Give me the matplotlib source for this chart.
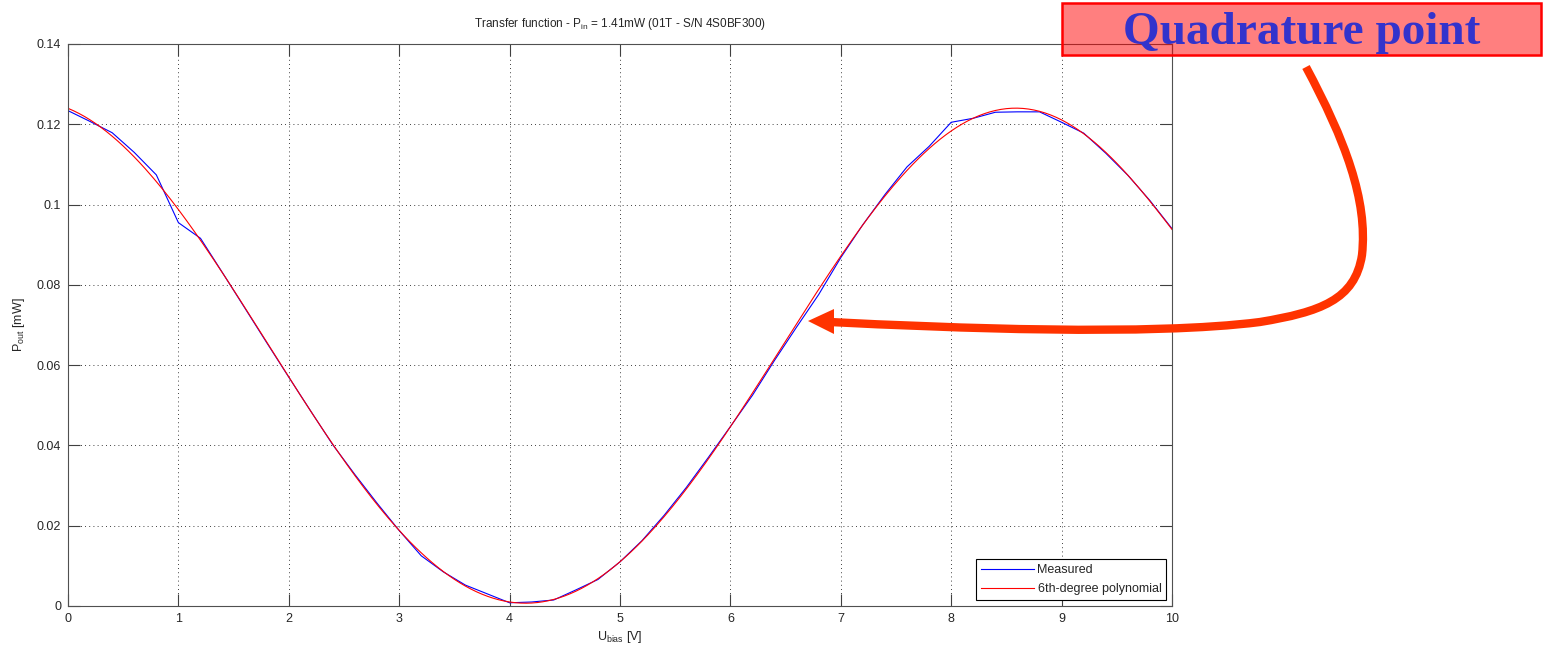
import numpy as np
import matplotlib
matplotlib.use('Agg')
import matplotlib.pyplot as plt
from matplotlib.path import Path
from matplotlib.patches import PathPatch, Polygon, Rectangle
from matplotlib.transforms import Affine2D

plt.rcParams['font.family'] = ['Liberation Sans', 'DejaVu Sans']
plt.rcParams['mathtext.default'] = 'regular'

# measured transfer function
u_bias = [0.0, 0.2, 0.4, 0.6, 0.8, 1.0, 1.2, 1.4, 1.6, 1.8,
          2.0, 2.2, 2.4, 2.6, 2.8, 3.0, 3.2, 3.4, 3.6, 3.8,
          4.0, 4.2, 4.4, 4.6, 4.8, 5.0, 5.2, 5.4, 5.6, 5.8,
          6.0, 6.2, 6.4, 6.6, 6.8, 7.0, 7.2, 7.4, 7.6, 7.8,
          8.0, 8.2, 8.4, 8.6, 8.8, 9.0, 9.2, 9.4, 9.6, 9.8, 10.0]
p_out = [0.1234, 0.1207, 0.1179, 0.1130, 0.1074, 0.0955, 0.0916, 0.0830, 0.0743, 0.0656,
         0.0570, 0.0485, 0.0401, 0.0327, 0.0256, 0.0188, 0.0125, 0.0085, 0.0052, 0.0030,
         0.0008, 0.0010, 0.0015, 0.0040, 0.0066, 0.0110, 0.0163, 0.0226, 0.0295, 0.0370,
         0.0447, 0.0525, 0.0612, 0.0695, 0.0776, 0.0868, 0.0950, 0.1025, 0.1094, 0.1145,
         0.1205, 0.1215, 0.1230, 0.1231, 0.1231, 0.1205, 0.1178, 0.1128, 0.1073, 0.1010, 0.0940]

x_ticks = [0, 1, 2, 3, 4, 5, 6, 7, 8, 9, 10]
y_ticks = [0, 0.02, 0.04, 0.06, 0.08, 0.1, 0.12, 0.14]
y_ticklabels = ['0', '0.02', '0.04', '0.06', '0.08', '0.1', '0.12', '0.14']

# 6th-degree polynomial fit of the measured points
coef = np.polyfit(u_bias, p_out, 6)
u_fit = np.linspace(0, 10, 401)
p_fit = np.polyval(coef, u_fit)

W, H = 1543, 647
fig = plt.figure(figsize=(W / 100, H / 100), dpi=100)
ax = fig.add_axes([68 / W, 41 / H, 1104 / W, 562 / H])

ax.plot(u_bias, p_out, color='#0000FF', lw=0.8, label='Measured')
ax.plot(u_fit, p_fit, color='#FF0000', lw=0.8, label='6th-degree polynomial')

ax.set_xlim(0, 10)
ax.set_ylim(0, 0.14)
ax.set_xticks(x_ticks)
ax.set_yticks(y_ticks)
ax.set_yticklabels(y_ticklabels)
ax.grid(True, color='k', lw=0.6, linestyle=(0, (1, 4)))
ax.tick_params(direction='in', length=8.5, width=0.8, top=True, right=True,
               labelsize=9, pad=5, color='#404040', labelcolor='#262626')
for s in ax.spines.values():
    s.set_color('#505050')
    s.set_linewidth(0.8)

leg = ax.legend(loc='lower right', fontsize=9, fancybox=False, framealpha=1,
                edgecolor='k', borderaxespad=0.45, handlelength=4.2,
                handletextpad=0.3, borderpad=0.4, labelspacing=0.6)
leg.get_frame().set_linewidth(0.8)
for t in leg.get_texts():
    t.set_color('#262626')

# title / axis labels (MATLAB-like placement)
fig.text(620 / W, 1 - 27 / H, 'Transfer function - P$_{in}$ = 1.41mW (01T - S/N 4S0BF300)',
         ha='center', va='baseline', fontsize=8.5, color='#262626')
fig.text(620 / W, 1 - 640 / H, 'U$_{bias}$ [V]', ha='center', va='baseline',
         fontsize=9, color='#262626')
fig.text(19 / W, 1 - 325 / H, 'P$_{out}$ [mW]', ha='center', va='center',
         rotation=90, fontsize=9, color='#262626')

# annotation box + curved arrow (figure pixel coords, y from top)
pix = Affine2D().scale(1 / W, -1 / H).translate(0, 1) + fig.transFigure

box = Rectangle((1062, 3), 479, 52, transform=pix, facecolor=(1, 0, 0, 0.5),
                edgecolor='#FF0000', lw=1.8, zorder=5)
fig.add_artist(box)
fig.text(1302 / W, 1 - 44 / H, 'Quadrature point', ha='center', va='baseline',
         fontsize=34, fontweight='bold', family=['Liberation Serif', 'DejaVu Serif'],
         color='#3333CC', zorder=6)

verts = [(1306, 67), (1345, 140), (1368, 200), (1362, 255),
         (1355, 300), (1320, 312), (1260, 322),
         (1150, 336), (950, 328), (830, 322)]
codes = [Path.MOVETO] + [Path.CURVE4] * 9
body = PathPatch(Path(verts, codes), transform=pix, facecolor='none',
                 edgecolor='#FF3300', lw=6, capstyle='butt', zorder=6)
fig.add_artist(body)
head = Polygon([(808, 321), (834, 309), (834, 334)], closed=True, transform=pix,
               facecolor='#FF3300', edgecolor='none', zorder=6)
fig.add_artist(head)

fig.savefig('out.png', dpi=100)
